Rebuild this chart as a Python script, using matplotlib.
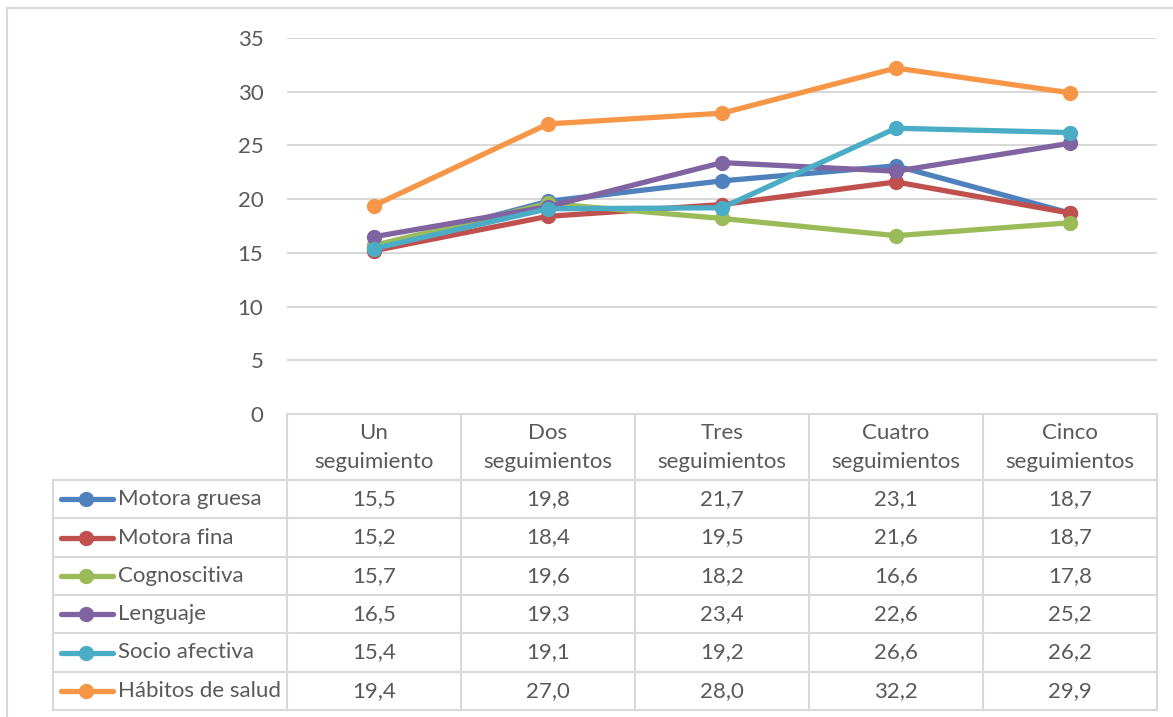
import matplotlib.pyplot as plt

categories = [["Un", "seguimiento"], ["Dos", "seguimientos"], ["Tres", "seguimientos"],
              ["Cuatro", "seguimientos"], ["Cinco", "seguimientos"]]
series_names = ["Motora gruesa", "Motora fina", "Cognoscitiva", "Lenguaje",
                "Socio afectiva", "Hábitos de salud"]
motora_gruesa = [15.5, 19.8, 21.7, 23.1, 18.7]
motora_fina = [15.2, 18.4, 19.5, 21.6, 18.7]
cognoscitiva = [15.7, 19.6, 18.2, 16.6, 17.8]
lenguaje = [16.5, 19.3, 23.4, 22.6, 25.2]
socio_afectiva = [15.4, 19.1, 19.2, 26.6, 26.2]
habitos_salud = [19.4, 27.0, 28.0, 32.2, 29.9]
colors = ["#4F81BD", "#C0504D", "#9BBB59", "#8064A2", "#4BACC6", "#F79646"]
yticks = [0, 5, 10, 15, 20, 25, 30, 35]

series = [motora_gruesa, motora_fina, cognoscitiva, lenguaje, socio_afectiva, habitos_salud]

plt.rcParams["font.family"] = ["Lato", "DejaVu Sans"]
TEXT = "#595959"
GRID = "#D9D9D9"
FS = 16
W, H = 1173, 717

fig = plt.figure(figsize=(W / 100, H / 100), dpi=100)

# plot area
x0, x1, ytop, ybot = 287, 1157, 38, 414
ax = fig.add_axes([x0 / W, 1 - ybot / H, (x1 - x0) / W, (ybot - ytop) / H])
xs = list(range(len(categories)))
for vals, c in zip(series, colors):
    ax.plot(xs, vals, color=c, lw=3.8, marker="o", ms=10, solid_capstyle="round", zorder=3)
ax.set_xlim(-0.5, len(categories) - 0.5)
ax.set_ylim(0, 35)
ax.set_yticks(yticks)
ax.set_xticks([])
ax.yaxis.grid(True, color=GRID, lw=1.5)
ax.set_axisbelow(True)
for s in ax.spines.values():
    s.set_visible(False)
ax.tick_params(axis="y", length=0, pad=17, labelsize=FS, labelcolor=TEXT)

# data table drawn in pixel coordinates
tab = fig.add_axes([0, 0, 1, 1], zorder=-1)
tab.set_xlim(0, W)
tab.set_ylim(H, 0)
tab.axis("off")

# chart border
tab.plot([7, W], [8, 8], color=GRID, lw=1.5)
tab.plot([7, 7], [8, H], color=GRID, lw=1.5)

col_w = (x1 - x0) / len(categories)
head_bot = 480
row_h = (710 - head_bot) / len(series_names)
leg_x = 53

tab.plot([x0, x1], [ybot, ybot], color=GRID, lw=1.5)
for i in range(len(categories) + 1):
    tab.plot([x0 + i * col_w] * 2, [ybot, 710], color=GRID, lw=1.5)
tab.plot([leg_x, leg_x], [head_bot, 710], color=GRID, lw=1.5)
for j in range(len(series_names) + 1):
    y = head_bot + j * row_h
    tab.plot([leg_x, x1], [y, y], color=GRID, lw=1.5)

for i, (a, b) in enumerate(categories):
    cx = x0 + (i + 0.5) * col_w
    tab.text(cx, 433, a, ha="center", va="center", fontsize=FS, color=TEXT)
    tab.text(cx, 462, b, ha="center", va="center", fontsize=FS, color=TEXT)

for j, (name, vals, c) in enumerate(zip(series_names, series, colors)):
    cy = head_bot + (j + 0.5) * row_h
    tab.plot([61, 113], [cy, cy], color=c, lw=3.8, solid_capstyle="round")
    tab.plot([86], [cy], marker="o", ms=10, color=c)
    tab.text(118, cy, name, ha="left", va="center", fontsize=FS, color=TEXT)
    for i, v in enumerate(vals):
        cx = x0 + (i + 0.5) * col_w
        tab.text(cx, cy, f"{v:.1f}".replace(".", ","), ha="center", va="center",
                 fontsize=FS, color=TEXT)

fig.savefig("out.png", dpi=100)
